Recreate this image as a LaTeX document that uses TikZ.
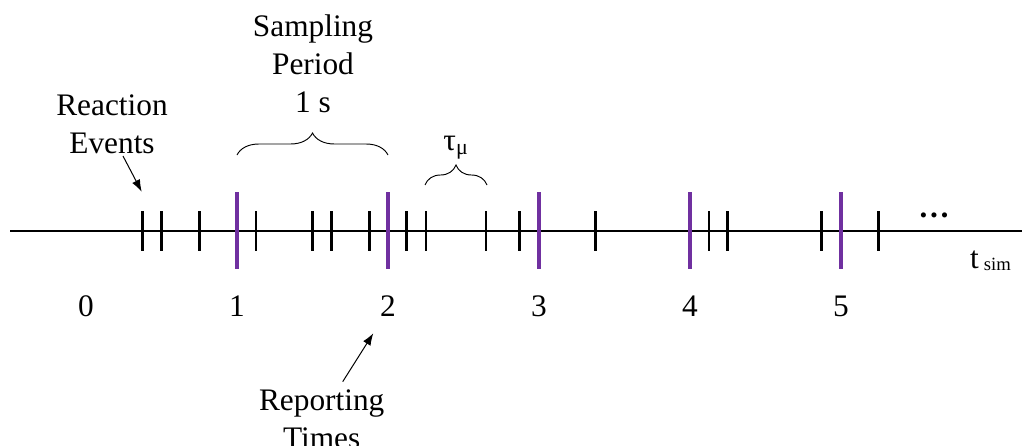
\documentclass[tikz,border=0pt]{standalone}
\usepackage{fontspec}
\setmainfont{Liberation Serif}
\usetikzlibrary{arrows.meta,decorations.pathreplacing}
\definecolor{rptpurple}{RGB}{112,48,160}

\begin{document}
\begin{tikzpicture}[x=0.75pt,y=0.75pt,yscale=-1,xscale=1,
  event/.style={line width=1.9pt},
  report/.style={rptpurple,line width=2.3pt},
  lbl/.style={anchor=base,inner sep=0pt,font=\fontsize{23.5}{28.3}\selectfont},
  pointer/.style={-{Latex[length=9pt,width=6.5pt]},line width=0.75pt},
  span/.style={decorate,decoration={brace,amplitude=#1},line width=0.7pt}]
\useasboundingbox (0,0) rectangle (1022,446);

%Time axis
\coordinate (start) at (10,231);
\coordinate (end) at (1022,231);
\draw [line width=1.6pt] (start) -- (end);

%Reaction events
\foreach \x in {142.7,161.7,199.3,256,312.7,331.3,369.3,406.7,426,486,519.3,595.7,709,727.7,821.7,878.3}
  \draw [event] (\x,211) -- (\x,251);

%Reporting times and their labels
\node [lbl] (d0) at (86,316) {0};
\foreach \n in {1,...,5} {
  \coordinate (r\n) at ({86+151*\n},192);
  \draw [report] (r\n) -- ++(0,77);
  \node [lbl] (d\n) at ({86+151*\n},316) {\n};
}

%Braces
\coordinate (p1) at (237,155);
\coordinate (p2) at (388,155);
\draw [span=16.5pt] (p1) -- (p2);
\coordinate (s1) at (425,185);
\coordinate (s2) at (487,185);
\draw [span=15pt] (s1) -- (s2);

% Text Node (base is the last line)
\node [lbl,align=center] (period) at (313,112) {Sampling\\Period\\1 s};
% Text Node
\node [lbl,align=center] (events) at (112,153) {Reaction\\Events};
% Text Node
\node [lbl,align=center] (reporting) at (321.7,448) {Reporting\\Times};
% Text Node
\node [lbl] (tau) at (456,150) {τ\textsubscript{μ}};
% Text Node
\node [lbl] (more) at (934,217) {\textbf{…}};
% Text Node
\node [lbl] (tsim) at (990.5,268) {t\,\raisebox{-2pt}{\fontsize{14}{14}\selectfont sim}};

%Pointers
\coordinate (evtail) at (123,156);
\coordinate (evtip) at (141.7,191.7);
\draw [pointer] (evtail) -- (evtip);
\coordinate (reptail) at (342.7,381.7);
\coordinate (reptip) at (373.3,333.3);
\draw [pointer] (reptail) -- (reptip);

\end{tikzpicture}
\end{document}
